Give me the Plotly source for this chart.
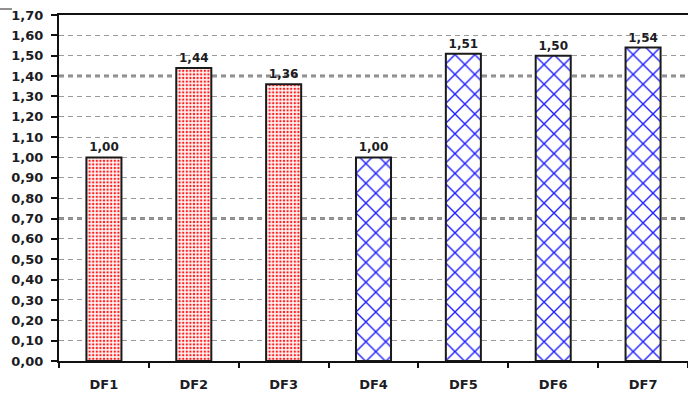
import plotly.graph_objects as go

# Chart data
categories = ["DF1", "DF2", "DF3", "DF4", "DF5", "DF6", "DF7"]
values = [1.00, 1.44, 1.36, 1.00, 1.51, 1.50, 1.54]
group_a = ["DF1", "DF2", "DF3"]           # dotted red bars
emphasis_levels = [0.70, 1.40]            # heavier grid lines

W, H = 688, 398
ML, MR, MT, MB = 59, 0, 15, 37

def fmt(v):
    return f"{v:.2f}".replace(".", ",")

dot_pattern = dict(shape=".", fgcolor="#ff1a1a", fgopacity=1, bgcolor="#fff4f4", size=3.6, solidity=0.33)
cross_pattern = dict(shape="x", fgcolor="#2020ff", fgopacity=1, bgcolor="white", size=14, solidity=0.19)

fig = go.Figure()
for cat, val in zip(categories, values):
    fig.add_trace(go.Bar(
        x=[cat], y=[val],
        text=[fmt(val)], textposition="outside",
        textfont=dict(family="DejaVu Sans", size=12, color="#1c1c24", weight="bold"),
        marker=dict(
            color="white",
            pattern=dot_pattern if cat in group_a else cross_pattern,
            line=dict(color="#1a1a1a", width=2),
        ),
        width=0.39,
        cliponaxis=False,
        showlegend=False,
    ))

# Heavier dotted reference lines
for lvl in emphasis_levels:
    fig.add_shape(type="line", xref="paper", yref="y", x0=0, x1=1, y0=lvl, y1=lvl,
                  line=dict(color="#8a8a8a", width=3, dash="5px,4px"), layer="below")

# Small frame stub at the top-left corner
plot_w = W - ML - MR
plot_h = H - MT - MB
fig.add_shape(type="line", xref="paper", yref="paper",
              x0=-ML / plot_w, x1=(12 - ML) / plot_w,
              y0=1 + 6 / plot_h, y1=1 + 6 / plot_h,
              line=dict(color="#222", width=1))

fig.update_layout(
    width=W, height=H,
    margin=dict(l=ML, r=MR, t=MT, b=MB),
    paper_bgcolor="white", plot_bgcolor="white",
    separators=", ",
    barmode="overlay",
    font=dict(family="DejaVu Sans", color="#1c1c24"),
    xaxis=dict(
        type="category",
        showline=True, linecolor="#111", linewidth=2, mirror=True,
        ticks="outside", tickson="boundaries", ticklen=5, tickcolor="#111", tickwidth=1.5,
        ticklabelstandoff=10,
        tickfont=dict(family="DejaVu Sans", size=13, color="#1c1c24", weight="bold"),
        showgrid=False,
    ),
    yaxis=dict(
        range=[0, 1.7], dtick=0.1, tick0=0,
        tickformat=".2f",
        showline=True, linecolor="#111", linewidth=2,
        ticks="outside", ticklen=6, tickcolor="#111", tickwidth=1.5,
        ticklabelstandoff=5,
        tickfont=dict(family="DejaVu Sans", size=13, color="#1c1c24", weight="bold"),
        showgrid=True, gridcolor="#9a9a9a", gridwidth=1.3, griddash="5px,4px",
        zeroline=False,
    ),
)

fig.write_html("out.html")
